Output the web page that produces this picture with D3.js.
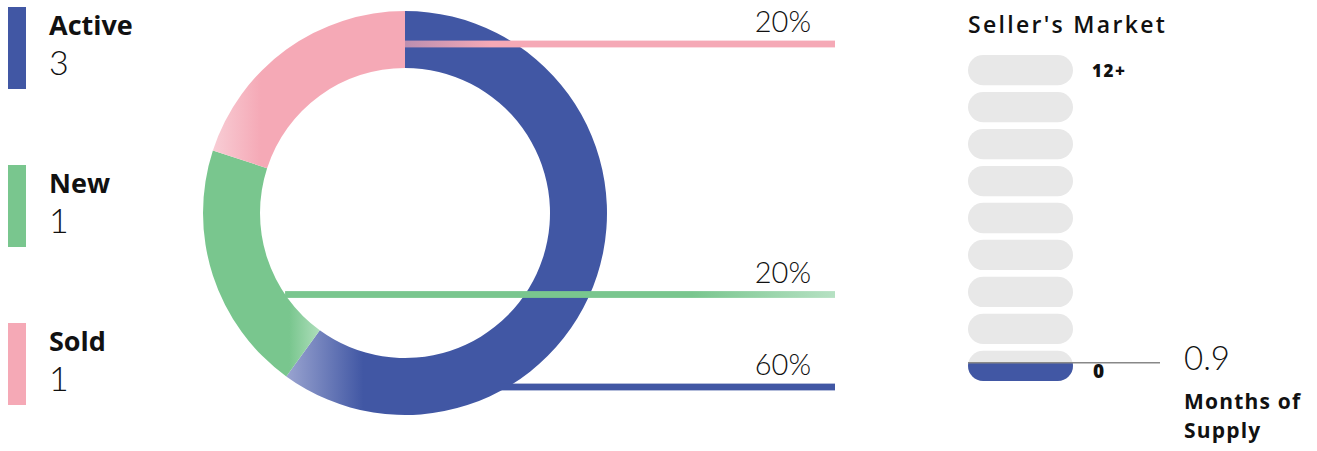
<!DOCTYPE html>
<html><head><meta charset="utf-8">
<script src="https://cdn.jsdelivr.net/npm/d3@7"></script>
<style>body{margin:0;background:#fff;overflow:hidden}</style>
</head><body><svg id="chart" width="1317" height="451"></svg>
<script>
// ---- data ----
const categories = ["Active", "New", "Sold"];
const counts = [3, 1, 1];
const sliceColors = ["#4157A4", "#79C68E", "#F5A9B6"];
const fadeColors = ["#9AA4D0", "#AEDEBB", "#F8CDD5"];
const supplyValue = 0.9;
const monthsPerPill = 1.5;
const pillLevels = [0, 1, 2, 3, 4, 5, 6, 7, 8];
const supplyTickLabels = ["0", "12+"];
const marketTitle = "Seller's Market";
const supplyTitle = ["Months of", "Supply"];

// ---- layout ----
const svg = d3.select("#chart");
const defs = svg.append("defs");
const FONT = "Lato, 'Open Sans', sans-serif";
const BOLD = "'Open Sans', Lato, sans-serif";
const cx = 405, cy = 213, rOut = 202, rIn = 145;
const total = d3.sum(counts);
const pct = counts.map(c => Math.round(c / total * 100) + "%");

// slice gradients (fade direction per slice)
const gradSpec = [
  [[0, fadeColors[0]], [0.24, sliceColors[0]], [1, sliceColors[0]]],
  [[0, sliceColors[1]], [0.74, sliceColors[1]], [1, fadeColors[1]]],
  [[0, fadeColors[2]], [0.25, sliceColors[2]], [1, sliceColors[2]]]
];
gradSpec.forEach((stops, i) => {
  const g = defs.append("linearGradient").attr("id", "sg" + i)
    .attr("x1", 0).attr("x2", 1).attr("y1", 0).attr("y2", 0);
  stops.forEach(s => g.append("stop").attr("offset", s[0]).attr("stop-color", s[1]));
});

// legend
const legend = svg.append("g");
categories.forEach((c, i) => {
  const top = 7 + i * 158;
  legend.append("rect").attr("x", 8).attr("y", top).attr("width", 18).attr("height", 82)
    .attr("fill", sliceColors[i]);
  legend.append("text").attr("x", 49).attr("y", top + 28).text(c)
    .attr("font-family", BOLD).attr("font-weight", 700).attr("font-size", 27).attr("fill", "#111");
  legend.append("text").attr("x", 49).attr("y", top + 68).text(counts[i])
    .attr("font-family", FONT).attr("font-weight", 300).attr("font-size", 34).attr("fill", "#111");
});

// donut
const pie = d3.pie().sort(null).value(d => d)(counts);
const arc = d3.arc().innerRadius(rIn).outerRadius(rOut);
const donut = svg.append("g").attr("transform", `translate(${cx},${cy})`);
donut.selectAll("path").data(pie).join("path")
  .attr("d", arc).attr("fill", (d, i) => `url(#sg${i})`);

// leader lines
const lineEndX = 835;
const leaderY = [cy + 174, cy + 81.5, cy - 169];
const leaderX0 = [cx + 95, cx - Math.sqrt(rIn * rIn - 81.5 * 81.5), cx];
const lg1 = defs.append("linearGradient").attr("id", "lg1").attr("gradientUnits", "userSpaceOnUse")
  .attr("x1", leaderX0[1]).attr("x2", lineEndX).attr("y1", 0).attr("y2", 0);
lg1.append("stop").attr("offset", 0).attr("stop-color", sliceColors[1]);
lg1.append("stop").attr("offset", 0.74).attr("stop-color", sliceColors[1]);
lg1.append("stop").attr("offset", 1).attr("stop-color", "#B6E1C3");
const lg2 = defs.append("linearGradient").attr("id", "lg2").attr("gradientUnits", "userSpaceOnUse")
  .attr("x1", leaderX0[2]).attr("x2", lineEndX).attr("y1", 0).attr("y2", 0);
lg2.append("stop").attr("offset", 0).attr("stop-color", sliceColors[2]).attr("stop-opacity", 0.68);
lg2.append("stop").attr("offset", 0.2).attr("stop-color", sliceColors[2]).attr("stop-opacity", 1);
const lineFill = [sliceColors[0], "url(#lg1)", "url(#lg2)"];
categories.forEach((c, i) => {
  svg.append("rect").attr("x", leaderX0[i]).attr("y", leaderY[i] - 3.4)
    .attr("width", lineEndX - leaderX0[i]).attr("height", 6.8).attr("fill", lineFill[i]);
  svg.append("text").attr("x", 811).attr("y", leaderY[i] - 12).attr("text-anchor", "end")
    .text(pct[i]).attr("font-family", FONT).attr("font-weight", 300).attr("font-size", 29).attr("fill", "#111");
});

// months of supply gauge
const px = 968, pw = 105;
const band = d3.scaleBand().domain(pillLevels.slice().reverse()).range([55, 381]).paddingInner(0.18);
const bw = band.bandwidth();
const gauge = svg.append("g");
gauge.append("text").attr("x", px).attr("y", 33).text(marketTitle)
  .attr("font-family", BOLD).attr("font-weight", 600).attr("font-size", 23).attr("letter-spacing", 2.3).attr("fill", "#111");
gauge.selectAll("rect.pill").data(pillLevels).join("rect").attr("class", "pill")
  .attr("x", px).attr("y", d => band(d)).attr("width", pw).attr("height", bw)
  .attr("rx", bw / 2).attr("fill", "#E8E8E8");
const lvl = Math.floor(supplyValue / monthsPerPill);
const frac = supplyValue / monthsPerPill - lvl;
const valueY = band(lvl) + bw * (1 - frac);
defs.append("clipPath").attr("id", "fillclip").append("rect")
  .attr("x", px).attr("y", valueY).attr("width", pw).attr("height", 381 - valueY + 2);
gauge.append("rect").attr("x", px).attr("y", band(lvl)).attr("width", pw).attr("height", bw)
  .attr("rx", bw / 2).attr("fill", sliceColors[0]).attr("clip-path", "url(#fillclip)");
gauge.append("line").attr("x1", px).attr("x2", 1160).attr("y1", valueY).attr("y2", valueY)
  .attr("stroke", "#888").attr("stroke-width", 1.6);
gauge.append("text").attr("x", 1092).attr("y", band(pillLevels.length - 1) + 22).text(supplyTickLabels[1])
  .attr("font-family", BOLD).attr("font-weight", 800).attr("font-size", 17).attr("letter-spacing", 1.5).attr("fill", "#111");
gauge.append("text").attr("x", 1093).attr("y", 378).text(supplyTickLabels[0])
  .attr("font-family", BOLD).attr("font-weight", 800).attr("font-size", 19).attr("fill", "#111");
gauge.append("text").attr("x", 1184).attr("y", 370).text(supplyValue)
  .attr("font-family", FONT).attr("font-weight", 300).attr("font-size", 33).attr("fill", "#111");
supplyTitle.forEach((t, i) => {
  gauge.append("text").attr("x", 1184).attr("y", 409 + i * 29).text(t)
    .attr("font-family", BOLD).attr("font-weight", 700).attr("font-size", 21).attr("letter-spacing", 1.2).attr("fill", "#111");
});
</script></body></html>
